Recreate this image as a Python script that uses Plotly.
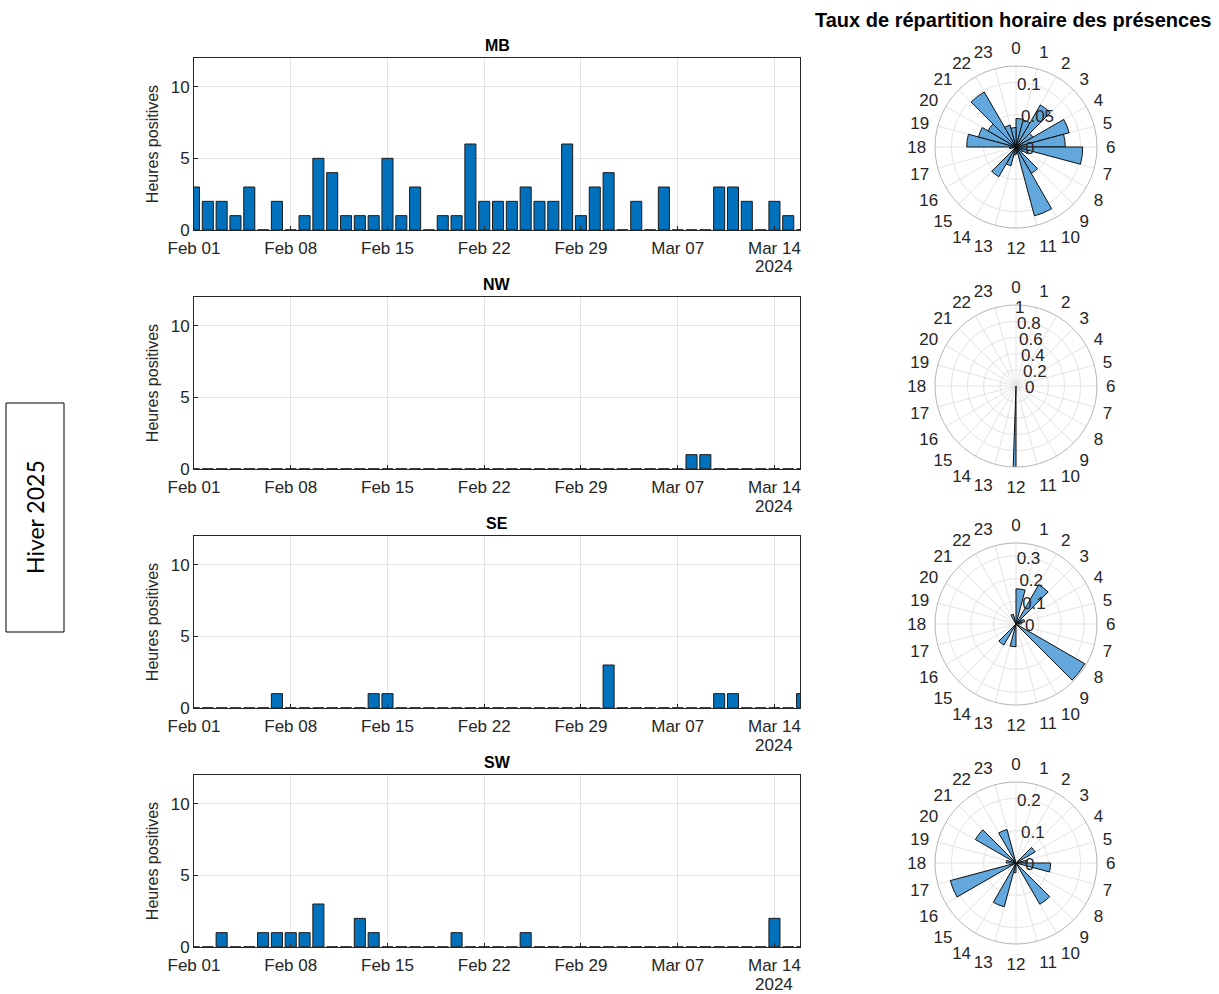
import plotly.graph_objects as go
import pandas as pd

# ---------------- data ----------------
start_date = "2024-02-01"
n_days = 45  # Feb 01 .. Mar 16 2024
sites = ["MB", "NW", "SE", "SW"]

mb_hours = [3, 2, 2, 1, 3, 0, 2, 0, 1, 5, 4, 1, 1, 1, 5, 1, 3, 0, 1, 1, 6, 2, 2, 2, 3,
            2, 2, 6, 1, 3, 4, 0, 2, 0, 3, 0, 0, 0, 3, 3, 2, 0, 2, 1, 0]
nw_hours = [0] * 36 + [1, 1] + [0] * 7
se_hours = [0, 0, 0, 0, 0, 0, 1, 0, 0, 0, 0, 0, 0, 1, 1, 0, 0, 0, 0, 0, 0, 0, 0, 0, 0,
            0, 0, 0, 0, 0, 3, 0, 0, 0, 0, 0, 0, 0, 1, 1, 0, 0, 0, 0, 1]
sw_hours = [0, 0, 1, 0, 0, 1, 1, 1, 1, 3, 0, 0, 2, 1, 0, 0, 0, 0, 0, 1, 0, 0, 0, 0, 1,
            0, 0, 0, 0, 0, 0, 0, 0, 0, 0, 0, 0, 0, 0, 0, 0, 0, 2, 0, 0]

hour_labels = [str(h) for h in range(24)]
# share of positive hours per hour of day (0..23)
mb_rate = [0.044, 0.043, 0.075, 0.03, 0.085, 0.076, 0.103, 0.02, 0.012, 0.047, 0.11, 0.01,
           0.012, 0.03, 0.053, 0, 0, 0.01, 0.076, 0.06, 0.05, 0.098, 0.035, 0.03]
nw_rate = [0] * 12 + [1.0] + [0] * 11
se_rate = [0.155, 0, 0.2, 0.03, 0.04, 0.025, 0, 0, 0.35, 0, 0, 0,
           0.1, 0, 0.107, 0, 0, 0, 0, 0, 0, 0, 0.045, 0]
sw_rate = [0, 0, 0, 0.068, 0, 0.035, 0.107, 0, 0, 0.147, 0, 0,
           0.03, 0.14, 0, 0, 0.21, 0, 0.03, 0, 0.145, 0, 0.107, 0]

rate_max = [0.125, 1.0, 0.357, 0.25]
rate_dtick = [0.05, 0.2, 0.1, 0.1]

week_ticks = ["2024-02-01", "2024-02-08", "2024-02-15", "2024-02-22",
              "2024-02-29", "2024-03-07", "2024-03-14"]
week_labels = ["Feb 01", "Feb 08", "Feb 15", "Feb 22", "Feb 29", "Mar 07", "Mar 14"]
year_label = "2024"

# ---------------- figure ----------------
W, H = 1219, 994
FONT = "Liberation Sans, Arial, sans-serif"
TXT = "#262626"
BAR = "#0072BD"
POL = "#62a8dc"
GRID = "#e3e3e3"

dates = pd.date_range(start_date, periods=n_days, freq="D")
day = pd.Timedelta(days=1)
x_range = [pd.Timestamp(start_date), pd.Timestamp(start_date) + 43.85 * day]

series = [mb_hours, nw_hours, se_hours, sw_hours]
rates = [mb_rate, nw_rate, se_rate, sw_rate]

def py(p):
    return 1 - p / H

def px(p):
    return p / W

bar_x = [px(194), px(800)]
bar_tops = [58, 297, 536, 775]
bar_h = 172
pol_centers = [147, 386, 624, 863]
pol_cx, pol_r = 1016, 81

fig = go.Figure()
layout = dict(
    width=W, height=H, margin=dict(l=0, r=0, t=0, b=0, pad=0, autoexpand=False),
    paper_bgcolor="white", plot_bgcolor="white", showlegend=False,
    font=dict(family=FONT, color=TXT, size=16),
    annotations=[], shapes=[],
)

for i, (name, vals) in enumerate(zip(sites, series)):
    xa = "x" if i == 0 else f"x{i+1}"
    ya = "y" if i == 0 else f"y{i+1}"
    # zero baseline (edges of the bars at y = 0)
    bx, byv = [], []
    for d in dates:
        bx += [d - 0.4 * day, d + 0.4 * day, None]
        byv += [0, 0, None]
    fig.add_trace(go.Scatter(x=bx, y=byv, mode="lines", xaxis=xa, yaxis=ya,
                             line=dict(color="#333333", width=1.3), hoverinfo="skip"))
    fig.add_trace(go.Bar(x=dates, y=vals, width=0.8 * 86400000, xaxis=xa, yaxis=ya,
                         marker=dict(color=BAR, line=dict(color="#1a1a1a", width=1))))
    top = bar_tops[i]
    ydom = [py(top + bar_h), py(top)]
    axis_common = dict(showline=True, linecolor=TXT, linewidth=1, mirror=True,
                       ticks="inside", ticklen=4, tickcolor=TXT, showgrid=True,
                       gridcolor=GRID, gridwidth=1, zeroline=False, automargin=False,
                       tickfont=dict(size=17, color=TXT, family=FONT))
    layout["xaxis" if i == 0 else f"xaxis{i+1}"] = dict(
        axis_common, domain=bar_x, anchor=ya, type="date", range=x_range,
        tickvals=week_ticks, ticktext=week_labels, tickangle=0, ticklabelstandoff=3)
    layout["yaxis" if i == 0 else f"yaxis{i+1}"] = dict(
        axis_common, domain=ydom, anchor=xa, range=[0, 12], tickvals=[0, 5, 10],
        title=dict(text="Heures positives", font=dict(size=16, color=TXT), standoff=8))
    layout["annotations"].append(dict(
        text=f"<b>{name}</b>", x=(bar_x[0] + bar_x[1]) / 2, y=py(top - 2),
        xref="paper", yref="paper", xanchor="center", yanchor="bottom",
        showarrow=False, font=dict(size=16, color="#000000", family=FONT)))
    layout["annotations"].append(dict(
        text=year_label, x=week_ticks[-1], xref=xa, y=py(top + bar_h + 37), yref="paper",
        xanchor="center", yanchor="middle", showarrow=False,
        font=dict(size=17, color=TXT, family=FONT)))

    # polar histogram
    pname = "polar" if i == 0 else f"polar{i+1}"
    r = rates[i]
    if name == "NW":
        theta = [15 * h + 1 for h in range(24)]
        widths = [2] * 24
    else:
        theta = [15 * h + 7.5 for h in range(24)]
        widths = [15] * 24
    fig.add_trace(go.Barpolar(r=r, theta=theta, width=widths, subplot=pname,
                              marker=dict(color=POL, line=dict(color="#111111", width=1))))
    cy = pol_centers[i]
    layout[pname] = dict(
        domain=dict(x=[px(pol_cx - pol_r), px(pol_cx + pol_r)],
                    y=[py(cy + pol_r), py(cy - pol_r)]),
        bgcolor="white",
        angularaxis=dict(direction="clockwise", rotation=90, tickmode="array",
                         tickvals=[15 * h for h in range(24)], ticktext=hour_labels,
                         showgrid=True, gridcolor=GRID, showline=True, linecolor="#b5b5b5",
                         ticks="outside", ticklen=5, tickcolor="rgba(0,0,0,0)",
                         tickfont=dict(size=17, color=TXT, family=FONT)),
        radialaxis=dict(range=[0, rate_max[i]], dtick=rate_dtick[i], showline=False,
                        ticks="", showgrid=True, gridcolor=GRID, angle=97, tickangle=97,
                        tickfont=dict(size=17, color=TXT, family=FONT)),
    )

layout["annotations"].append(dict(
    text="<b>Taux de répartition horaire des présences</b>", x=px(1013), y=py(20),
    xref="paper", yref="paper", xanchor="center", yanchor="middle", showarrow=False,
    font=dict(size=20, color="#000000", family=FONT)))
layout["annotations"].append(dict(
    text="Hiver 2025", x=px(35), y=py(517), xref="paper", yref="paper",
    xanchor="center", yanchor="middle", showarrow=False, textangle=-90,
    font=dict(size=23, color="#000000", family="Lato, Carlito, sans-serif")))
layout["shapes"].append(dict(
    type="rect", xref="paper", yref="paper", x0=px(6), x1=px(64), y0=py(632), y1=py(403),
    line=dict(color="#000000", width=1)))

fig.update_layout(**layout)
fig.write_html("out.html", post_script="document.body.style.margin='0';",
               config={"displayModeBar": False})
